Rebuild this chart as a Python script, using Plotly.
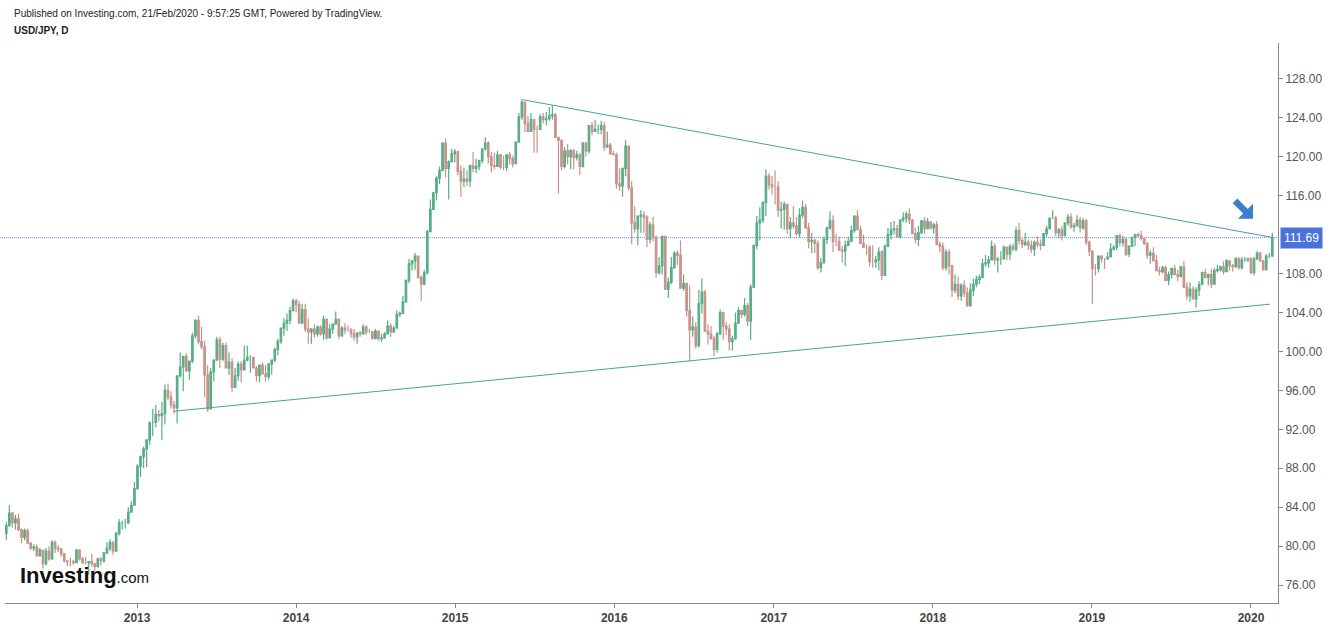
import plotly.graph_objects as go
import pandas as pd

# ---------------- data (weekly OHLC, USD/JPY) ----------------
first_open = 81.3

high_2012 = [82.5,84.2,83.5,83.2, 83.3,81.8,81.8,81.8, 80.4,80.2,80.2,79.8, 79.6,79.8,80.0,80.6,80.6,
             80.1,79.8,79.3,78.5, 78.8,78.6,79.7,79.7,78.9, 78.9,78.4,79.2,78.2, 78.8,78.9,79.4,80.4,
             80.7,80.5,81.5,82.8,82.6, 82.8,84.0,84.6,86.6]
low_2012 = [80.6,82.0,81.9,81.7, 81.5,80.3,80.6,80.3, 79.6,79.5,79.0,79.0, 77.7,78.0,78.5,78.6,79.3,
            79.4,78.9,78.3,77.9, 77.9,78.1,78.3,78.5,78.2, 78.1,77.1,77.9,77.4, 77.8,78.0,78.3,79.2,
            79.5,79.1,79.4,81.1,81.7, 81.8,82.3,83.5,84.6]
close_2012 = [82.1,83.4,82.4,82.8, 81.7,80.9,81.6,80.3, 79.8,79.9,79.0,79.6, 78.2,79.5,78.7,80.4,79.8,
              79.7,79.2,78.5,78.4, 78.4,78.3,79.6,78.7,78.3, 78.3,78.4,78.2,77.9, 78.7,78.5,79.3,79.8,
              80.4,79.5,81.3,82.4,82.4, 82.4,83.5,84.2,85.9]

high_2013 = [88.4,89.3,90.2,91.0, 92.8,94.1,94.5,94.0, 94.8,96.6,96.7,95.9,94.9, 97.5,99.9,99.3,99.8,
             99.0,101.9,103.3,103.7,102.5, 101.1,98.6,98.3,99.2, 101.5,101.5,100.9,100.9,
             99.9,99.3,98.3,99.0,99.0, 100.6,100.6,99.6,99.4, 98.5,98.6,98.9,98.6,
             98.8,99.1,100.4,101.3,102.4, 103.4,103.9,104.6,105.4]
low_2013 = [85.8,87.1,88.0,88.1, 90.4,91.3,92.2,92.8, 90.9,92.5,95.0,94.1,93.6, 92.6,97.3,95.9,97.9,
            97.1,98.8,101.3,100.7,100.2, 95.3,93.8,94.1,96.9, 99.8,98.3,99.0,98.3,
            97.6,95.8,96.3,97.0,96.8, 98.1,99.0,97.8,98.5, 96.9,96.8,97.8,96.9,
            97.1,97.6,98.9,99.6,100.8, 101.6,102.1,102.8,104.1]
close_2013 = [88.2,89.2,90.0,90.9, 92.7,92.7,93.5,93.4, 93.6,96.0,95.3,94.5,94.2, 97.5,98.4,99.5,98.0,
              99.0,101.6,103.2,101.0,100.5, 97.6,94.1,97.9,99.1, 101.2,99.2,100.6,98.3,
              98.9,96.3,97.5,98.7,98.1, 99.1,99.4,99.4,98.3, 97.5,98.6,97.7,97.4,
              98.7,99.1,100.2,101.0,102.4, 102.9,103.2,104.2,105.2]

high_2014 = [105.4,105.2,104.9,104.9,103.4, 102.4,102.8,102.7,102.7, 103.7,103.4,102.8,102.9,
             104.1,103.4,102.6,102.9, 102.7,102.4,102.3,101.9,102.1, 102.8,102.7,102.3,102.1,
             102.3,102.1,101.8,102.0, 103.2,102.9,102.6,104.2,104.1, 105.7,107.4,109.5,109.4,
             110.1,109.0,107.8,108.4,112.5, 115.6,116.4,118.0,119.0, 121.4,121.9,119.6,120.8]
low_2014 = [104.0,102.9,102.9,102.0,100.8, 100.8,101.4,101.5,101.6, 101.2,101.2,101.4,101.8,
            102.9,101.3,101.5,101.8, 102.0,101.4,101.1,100.8,101.5, 101.8,101.7,101.9,101.3,
            101.3,101.1,101.0,101.3, 101.8,101.5,101.9,102.4,103.5, 103.9,105.0,107.0,108.3,
            108.4,107.5,105.2,106.8,107.9, 112.3,114.9,115.5,117.2, 118.5,117.9,115.6,119.6]
close_2014 = [104.8,102.9,104.3,102.3,102.0, 102.3,101.8,102.5,101.8, 103.3,101.4,102.3,102.8,
              103.3,101.6,102.4,102.2, 102.2,101.8,101.5,101.9,101.8, 102.5,102.0,102.0,101.3,
              102.1,101.3,101.4,101.8, 102.6,102.0,102.4,103.8,103.9, 105.1,107.3,109.0,109.3,
              109.8,107.6,106.9,108.1,112.3, 114.6,116.3,117.8,118.6, 121.4,118.8,119.5,120.3]

high_2015 = [120.8,120.6,119.1,118.9,118.6, 119.2,120.5,119.8,119.7, 120.5,122.0,121.6,120.5,
             120.4,120.6,120.3,120.1, 120.2,120.5,120.1,121.5,124.5, 125.9,125.6,124.2,124.5,
             123.8,123.2,124.4,124.5,124.6, 125.1,125.3,124.5,122.0, 121.7,121.0,121.3,120.8,
             120.8,120.6,120.4,121.5,121.5, 123.2,123.6,123.8,123.3, 123.7,123.6,122.6,121.4]
low_2015 = [119.4,118.1,115.9,116.9,117.0, 116.9,118.4,118.3,118.6, 119.3,120.6,119.3,118.4,
            118.7,119.2,118.7,118.6, 118.5,119.2,118.9,119.5,121.5, 123.8,122.5,122.5,122.6,
            120.4,120.4,122.8,123.4,123.2, 123.7,123.8,121.9,116.2, 118.6,118.8,119.2,118.7,
            118.7,119.6,118.1,118.9,120.0, 120.3,122.2,122.6,122.3, 122.3,120.6,120.9,120.2]
close_2015 = [120.5,118.5,117.5,117.7,117.5, 119.1,118.8,119.0,119.6, 120.8,121.4,120.0,119.1,
              119.0,120.2,118.9,118.9, 120.2,119.8,119.3,121.5,124.1, 125.6,123.4,122.6,123.8,
              122.8,122.8,124.1,123.8,123.9, 124.2,124.3,122.0,121.7, 119.0,120.6,120.0,120.6,
              119.9,120.2,119.0,121.4,120.6, 123.2,122.6,122.8,122.8, 123.2,121.0,121.2,120.3]

high_2016 = [120.6,120.4,118.8,118.9,121.7, 121.0,117.5,114.9,113.9, 114.5,114.4,114.0,113.3,
             113.8,111.9,109.7,111.9,111.9, 107.6,109.7,110.3,110.4, 111.4,107.9,106.9,106.8,
             103.6,103.0,106.3,107.5,106.3, 102.8,102.6,101.6,102.0, 104.3,104.1,103.0,102.8,101.6,
             104.0,104.6,104.3,105.5, 105.0,106.9,110.9,113.9, 114.8,115.4,118.7,118.3,118.0]
low_2016 = [120.2,116.7,116.5,115.9,118.0, 116.5,111.0,112.2,110.9, 112.2,112.2,110.7,111.1,
            111.3,107.6,107.9,107.9,106.3, 105.5,106.9,108.5,108.9, 106.5,106.2,103.6,99.0,
            101.5,100.3,100.4,103.9,102.0, 100.7,101.2,99.5,99.9, 101.7,101.2,101.7,100.1,100.1,
            101.2,103.0,103.4,103.6, 102.6,101.2,106.5,110.5, 111.4,113.2,113.9,116.6,116.1]
close_2016 = [120.2,117.2,117.0,118.8,121.1, 116.8,113.2,112.6,113.9, 114.0,113.8,111.5,113.0,
              111.7,108.1,108.8,111.8,106.4, 107.1,108.6,110.1,109.9, 106.5,107.0,104.2,102.2,
              102.5,100.6,104.9,106.1,102.1, 101.8,101.3,100.2,101.8, 104.0,102.6,102.3,101.0,101.3,
              102.9,104.2,103.8,104.7, 103.1,106.6,110.9,113.2, 113.5,115.3,118.0,117.1,116.9]

high_2017 = [118.6,117.5,115.4,115.4, 115.1,113.8,114.9,113.8, 114.7,115.5,115.2,113.2,112.2,
             111.6,111.4,109.6,111.8, 112.8,114.4,114.0,112.1, 111.8,110.8,111.4,111.8,112.9,
             114.0,114.5,112.9,112.0, 111.0,110.9,110.9,109.8, 110.7,110.4,111.0,112.7,113.3,
             113.4,113.0,113.6,114.3, 114.4,114.7,113.6,112.7, 112.9,113.5,113.8,113.7,113.3]
low_2017 = [115.1,113.8,112.6,112.5, 112.1,111.6,112.6,111.9, 111.7,113.7,112.6,110.6,110.1,
            110.1,108.4,108.1,109.4, 111.0,112.5,110.2,110.8, 110.4,109.1,108.8,110.8,111.4,
            112.2,112.7,111.0,110.6, 109.9,108.7,108.6,108.6, 108.3,107.3,107.8,110.8,111.5,
            112.0,111.7,111.6,113.3, 113.2,113.1,112.0,111.1, 110.8,112.0,112.0,112.6,112.5]
close_2017 = [116.9,114.5,114.6,115.1, 112.6,113.2,112.9,112.1, 114.0,114.8,112.7,111.3,111.4,
              111.1,108.6,109.1,111.5, 112.7,113.4,111.3,111.3, 110.4,110.3,110.9,111.3,112.4,
              113.9,112.5,111.1,110.7, 110.7,109.2,109.2,109.4, 110.2,107.8,110.8,112.0,112.5,
              112.6,111.8,113.5,113.7, 114.1,113.5,112.1,111.5, 112.2,113.4,112.6,113.3,112.7]

high_2018 = [113.2,113.4,111.3,111.2, 110.5,110.5,108.9,107.9, 107.7,107.0,107.3,106.6,107.0,
             107.5,107.8,107.9,109.5, 109.9,109.8,111.4,111.1, 109.7,110.3,110.9,110.8,111.0,
             111.1,112.8,113.2,111.6, 112.2,111.5,111.4,111.4,111.8, 111.5,112.2,112.9,113.7,
             114.5,113.9,112.7,112.9, 113.2,114.1,114.2,113.2,114.0, 113.8,113.7,113.6,111.4]
low_2018 = [112.1,110.9,110.2,108.3, 108.3,107.9,105.6,106.0, 105.3,105.2,105.6,104.6,104.6,
            105.7,106.6,106.9,107.6, 108.7,108.6,109.4,108.9, 108.1,108.9,109.5,109.4,109.4,
            110.3,110.3,111.0,110.6, 110.8,110.4,110.1,109.8,110.7, 110.4,110.8,111.8,112.6,
            113.6,111.8,111.6,111.4, 111.8,112.9,112.6,112.3,113.1, 112.2,112.5,110.9,109.8]
close_2018 = [113.0,111.0,110.8,108.6, 110.2,108.8,106.3,106.9, 105.7,106.8,106.0,104.7,106.3,
              106.9,107.4,107.6,109.0, 109.1,109.4,110.8,109.4, 109.5,109.5,110.7,110.0,110.8,
              110.5,112.4,111.4,111.0, 111.2,110.9,110.5,111.2,111.0, 110.9,112.1,112.6,113.7,
              113.7,112.2,112.5,111.9, 113.2,113.8,112.8,112.9,113.5, 112.7,113.4,111.2,110.3]

high_2019 = [110.0,109.0,109.8,109.9, 109.6,110.2,111.1,110.9, 111.9,112.1,111.9,111.7,110.9,
             111.8,112.0,112.2,112.4, 111.7,111.2,110.4,110.7,109.9, 108.7,108.8,108.8,108.2,
             108.6,108.9,108.4,108.8, 109.3,107.1,107.1,106.7,106.6, 107.2,108.2,108.5,108.0,
             108.5,108.6,108.9,108.8, 109.3,109.5,109.3,109.0,109.7, 109.7,109.7,109.7,109.6]
low_2019 = [104.9,107.8,108.1,109.1, 108.5,109.5,109.8,110.4, 110.4,110.8,110.8,109.8,109.7,
            110.8,110.8,111.7,111.4, 110.9,109.5,109.0,109.3,108.2, 107.8,108.0,107.2,106.8,
            107.5,107.8,107.2,107.6, 106.5,105.3,105.1,105.3,104.5, 105.7,106.8,107.5,106.8,
            106.5,106.9,108.1,108.2, 107.9,108.2,108.3,108.2,108.6, 108.4,108.4,109.2,109.2]
close_2019 = [108.5,108.5,109.8,109.5, 109.5,109.7,110.5,110.7, 111.9,111.2,111.5,110.0,110.8,
              111.7,112.0,111.9,111.6, 111.1,109.9,110.1,109.3,108.3, 108.2,108.6,107.3,107.9,
              108.5,107.9,107.7,108.7, 106.6,105.7,106.4,105.4,106.3, 106.9,108.1,107.6,107.9,
              106.9,108.3,108.4,108.7, 108.2,109.3,108.8,108.7,109.5, 108.6,109.4,109.4,109.5]

high_2020 = [109.7,109.7,110.3,110.2,109.4,110.0,110.1,112.2]
low_2020 = [107.9,107.8,109.4,109.2,108.3,108.3,109.6,109.7]
close_2020 = [108.1,109.5,110.1,109.3,108.4,109.8,109.8,111.7]

last_price = 111.69
upper_trend_dates = ["2015-06-05", "2020-02-20"]
upper_trend_prices = [125.86, 111.70]
lower_trend_dates = ["2013-03-25", "2020-02-13"]
lower_trend_prices = [93.85, 104.85]

year_ticks = ["2013-01-01", "2014-01-01", "2015-01-01", "2016-01-01",
              "2017-01-01", "2018-01-01", "2019-01-01", "2020-01-01"]
year_labels = ["2013", "2014", "2015", "2016", "2017", "2018", "2019", "2020"]
# 112.00 is hidden behind the last-price label in the reference
price_ticks = [76, 80, 84, 88, 92, 96, 100, 104, 108, 116, 120, 124, 128]

# ---------------- assemble ----------------
highs = high_2012 + high_2013 + high_2014 + high_2015 + high_2016 + high_2017 + high_2018 + high_2019 + high_2020
lows = low_2012 + low_2013 + low_2014 + low_2015 + low_2016 + low_2017 + low_2018 + low_2019 + low_2020
closes = close_2012 + close_2013 + close_2014 + close_2015 + close_2016 + close_2017 + close_2018 + close_2019 + close_2020
opens = [first_open] + closes[:-1]
highs = [max(h, o, c) for h, o, c in zip(highs, opens, closes)]
lows = [min(l, o, c) for l, o, c in zip(lows, opens, closes)]
dates = pd.date_range(end="2020-02-19", periods=len(closes), freq="W-WED")

FONT = "Liberation Sans, Arial, sans-serif"
L, R, T, B, W, H = 5, 54, 43, 23, 1332, 630
PW, PH = W - L - R, H - T - B


def px(x):
    return (x - L) / PW


def py(y):
    return (H - B - y) / PH


fig = go.Figure()
fig.add_trace(go.Candlestick(
    x=dates, open=opens, high=highs, low=lows, close=closes,
    increasing=dict(line=dict(color="#58ad86", width=1.2), fillcolor="#4fb583"),
    decreasing=dict(line=dict(color="#c4948c", width=1.2), fillcolor="#e5877a"),
    whiskerwidth=0, hoverinfo="skip", showlegend=False,
))
fig.add_trace(go.Scatter(x=upper_trend_dates, y=upper_trend_prices, mode="lines",
                         line=dict(color="#45a690", width=1), hoverinfo="skip", showlegend=False))
fig.add_trace(go.Scatter(x=lower_trend_dates, y=lower_trend_prices, mode="lines",
                         line=dict(color="#45a690", width=1), hoverinfo="skip", showlegend=False))

# current price dotted line
fig.add_shape(type="line", xref="paper", x0=-0.004, x1=1, yref="y", y0=last_price, y1=last_price,
              line=dict(color="#6a8ae6", width=1, dash="1px,1px"), layer="below")

# blue arrow
pts = [(1237.3, 199.7), (1247.8, 210.2), (1253, 205), (1253, 220), (1238, 220),
       (1243.2, 214.8), (1232.7, 204.3)]
path = "M " + " L ".join(f"{px(a):.5f} {py(b):.5f}" for a, b in pts) + " Z"
fig.add_shape(type="path", xref="paper", yref="paper", path=path,
              fillcolor="#3b7fcf", line=dict(width=0))

# price label on axis
fig.add_annotation(xref="paper", x=1, xanchor="left", xshift=2, yref="y", y=last_price,
                   text=f"{last_price:.2f}", showarrow=False, bgcolor="#4a72d9",
                   font=dict(family=FONT, size=12, color="white"), borderpad=3)

# header texts
fig.add_annotation(xref="paper", yref="paper", x=px(12), y=py(13), xanchor="left", yanchor="middle",
                   text="Published on Investing.com, 21/Feb/2020 - 9:57:25 GMT, Powered by TradingView.",
                   showarrow=False, font=dict(family=FONT, size=10, color="#222"))
fig.add_annotation(xref="paper", yref="paper", x=px(12), y=py(30), xanchor="left", yanchor="middle",
                   text="<b>USD/JPY, D</b>", showarrow=False, font=dict(family=FONT, size=10, color="#222"))

# logo
fig.add_annotation(xref="paper", yref="paper", x=px(18), y=py(579), xanchor="left", yanchor="middle",
                   text="<b>Investing</b><span style='font-size:15px'>.com</span>", showarrow=False,
                   font=dict(family=FONT, size=22, color="#111"))

fig.update_layout(
    width=W, height=H, margin=dict(l=L, r=R, t=T, b=B),
    paper_bgcolor="white", plot_bgcolor="white", showlegend=False,
    xaxis=dict(type="date", range=["2012-03-04", "2020-03-03"], rangeslider=dict(visible=False),
               showgrid=False, zeroline=False, showline=True, linecolor="#888", linewidth=1,
               ticks="outside", ticklen=4, tickcolor="#888",
               tickvals=year_ticks, ticktext=[f"<b>{t}</b>" for t in year_labels],
               tickfont=dict(family=FONT, size=12, color="#444")),
    yaxis=dict(side="right", range=[74.16, 131.68], showgrid=False, zeroline=False,
               showline=True, linecolor="#888", linewidth=1, ticks="outside", ticklen=4, tickcolor="#888",
               tickvals=price_ticks, tickformat=".2f",
               tickfont=dict(family=FONT, size=12, color="#555")),
)

fig.write_html("out.html", config={"displayModeBar": False},
               post_script="document.body.style.margin='0px';")
